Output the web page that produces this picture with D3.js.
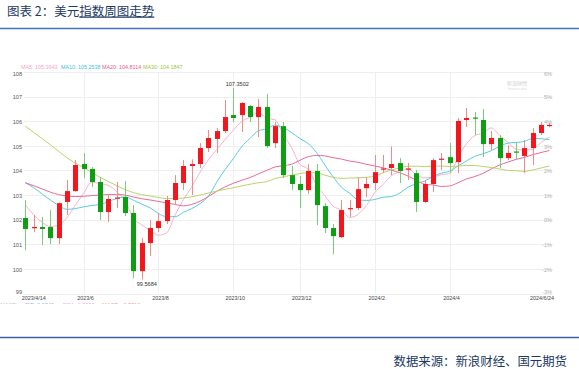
<!DOCTYPE html>
<html><head><meta charset="utf-8">
<script src="https://cdn.jsdelivr.net/npm/d3@7/dist/d3.min.js"></script>
<style>
html,body{margin:0;padding:0;background:#fff;}
svg{display:block;}
</style>
</head><body>
<div id="chart"></div>
<script>
// ---- data (weekly candles 2023/4/14 .. 2024/6/24) ----
const open  = [102.07,101.66,101.70,101.70,101.25,102.72,103.16,104.26,104.06,103.53,102.31,102.86,102.92,102.27,99.91,101.05,101.66,101.94,102.80,103.49,104.18,104.26,104.91,105.28,105.60,106.25,106.25,106.62,106.17,106.58,105.11,105.80,103.81,103.45,103.20,103.98,102.55,101.66,101.29,102.45,102.47,103.28,103.49,104.04,104.10,104.30,104.04,103.89,102.72,103.45,104.44,104.54,104.34,106.05,106.15,106.05,105.07,105.32,104.50,104.77,104.59,104.91,105.52,105.80];
const high  = [102.80,102.19,102.11,102.39,102.70,103.61,104.42,104.71,104.14,103.73,103.00,103.53,103.57,102.59,101.25,101.98,102.27,102.96,103.81,104.42,104.45,105.11,105.64,105.72,106.86,107.3502,106.78,106.66,106.90,107.11,105.97,105.97,104.18,103.77,104.26,104.26,102.67,101.82,102.80,102.80,103.73,103.73,104.63,104.63,104.97,104.50,104.30,104.02,103.61,104.50,104.71,105.11,106.13,106.54,106.37,106.50,105.60,105.44,105.03,105.15,105.24,105.72,105.97,105.93];
const low   = [100.76,101.50,100.97,101.01,101.01,102.19,103.14,103.69,103.33,101.98,101.90,102.47,102.15,99.62,99.5684,100.52,101.50,101.82,102.59,103.20,103.00,104.10,104.75,104.71,105.52,105.97,105.56,105.97,105.36,104.91,104.91,103.69,103.20,102.47,103.04,101.78,101.46,100.60,101.25,102.11,102.39,102.92,103.20,103.89,103.81,103.49,103.61,102.31,102.67,103.12,104.02,103.89,103.89,105.76,105.44,104.54,104.83,104.10,104.42,104.42,103.89,104.22,105.44,105.76];
const close = [101.62,101.70,101.62,101.25,102.67,103.16,104.22,104.06,103.53,102.31,102.84,102.90,102.27,99.91,101.05,101.66,101.94,102.80,103.49,104.18,104.26,104.91,105.32,105.60,106.17,106.13,106.74,106.17,106.58,104.99,105.80,103.81,103.45,103.20,103.98,102.59,101.66,101.33,102.39,102.47,103.24,103.45,103.93,104.08,104.26,103.98,104.08,102.72,103.45,104.42,104.48,104.30,106.01,106.13,106.11,105.07,105.32,104.50,104.71,104.73,104.91,105.52,105.85,105.85];

const ma5  = [102.60,102.20,101.90,101.72,101.77,102.08,102.58,103.07,103.53,103.46,103.39,103.13,102.77,102.05,101.79,101.56,101.37,101.47,102.19,102.81,103.33,103.93,104.43,104.85,105.25,105.63,105.99,106.16,106.36,106.12,106.06,105.47,104.93,104.25,104.05,103.41,102.98,102.55,102.39,102.09,102.22,102.58,103.10,103.43,103.79,103.94,104.07,103.82,103.70,103.73,103.83,103.87,104.53,105.07,105.41,105.52,105.73,105.43,105.14,104.87,104.83,104.87,105.14,105.36];
const ma10 = [103.50,103.30,103.05,102.80,102.58,102.42,102.45,102.52,102.58,102.61,102.74,102.86,102.92,102.79,102.63,102.48,102.25,102.12,102.12,102.30,102.45,102.65,102.95,103.52,104.03,104.48,104.96,105.30,105.61,105.69,105.84,105.73,105.54,105.30,105.09,104.73,104.22,103.74,103.32,103.07,102.81,102.78,102.82,102.91,102.94,103.08,103.32,103.46,103.57,103.76,103.89,103.97,104.18,104.38,104.57,104.68,104.80,104.98,105.11,105.14,105.18,105.30,105.29,105.25];
const ma20 = [103.50,103.38,103.25,103.12,103.02,102.96,102.94,102.95,102.98,103.00,103.02,103.02,103.00,102.92,102.85,102.80,102.74,102.68,102.62,102.56,102.62,102.75,102.94,103.15,103.33,103.48,103.60,103.71,103.86,104.00,104.14,104.19,104.25,104.41,104.56,104.61,104.59,104.52,104.46,104.38,104.33,104.25,104.18,104.11,104.01,103.91,103.77,103.60,103.44,103.41,103.35,103.37,103.50,103.65,103.75,103.88,104.06,104.22,104.34,104.45,104.53,104.64,104.73,104.81];
const ma30 = [105.80,105.55,105.30,105.05,104.78,104.52,104.30,104.12,103.92,103.72,103.55,103.38,103.22,103.10,103.02,102.96,102.90,102.86,102.86,102.88,102.93,103.00,103.08,103.16,103.23,103.30,103.37,103.44,103.50,103.54,103.67,103.74,103.81,103.87,103.91,103.90,103.81,103.72,103.68,103.69,103.70,103.72,103.77,103.91,104.02,104.10,104.17,104.17,104.16,104.17,104.18,104.16,104.18,104.20,104.20,104.16,104.12,104.06,104.00,103.99,103.96,104.02,104.10,104.18];

const legendNames  = ["MA5: 105.3643","MA10: 105.2538","MA20: 104.8114","MA30: 104.1847"];
const xTickIndex   = [0,7,16,25,33,42,51,63];
const xTickLabels  = ["2023/4/14","2023/6","2023/8","2023/10","2023/12","2024/2","2024/4","2024/6/24"];
const yTicks       = [99,100,101,102,103,104,105,106,107,108];
const rightLabels  = ["-3%","-2%","-1%","0%","1%","2%","3%","4%","5%","6%"];
const macdLabels   = ["MACD","DIF: 0.2840","DEA: 0.3998","MACD: -0.2316"];

// ---- drawing ----
const W = 579, H = 369;
const svg = d3.select("#chart").append("svg").attr("width", W).attr("height", H)
  .style("font-family", "'Liberation Sans', Arial, sans-serif");
svg.append("rect").attr("width", W).attr("height", H).attr("fill", "#fff");

const cjk = "'Noto Sans CJK SC','Noto Sans',sans-serif";
const navy = "#203864";

// header
const title = svg.append("text").attr("x", 7).attr("y", 15.5)
  .attr("font-family", cjk).attr("font-size", 12.5).attr("fill", navy);
title.append("tspan").text("图表 2：美元");
title.append("tspan").text("指数周图走势").attr("text-decoration", "underline");
svg.append("line").attr("x1", 0).attr("x2", W).attr("y1", 28.5).attr("y2", 28.5)
  .attr("stroke", "#4472c4").attr("stroke-width", 1.5);

// footer
svg.append("line").attr("x1", 0).attr("x2", W).attr("y1", 337.5).attr("y2", 337.5)
  .attr("stroke", "#3a62a7").attr("stroke-width", 1.5);
svg.append("text").attr("x", 567).attr("y", 366).attr("text-anchor", "end")
  .attr("font-family", cjk).attr("font-size", 12.4).attr("fill", navy)
  .text("数据来源：新浪财经、国元期货");

// scales
const n = close.length;
const x = d3.scaleLinear().domain([0, n - 1]).range([25.3, 25.3 + (n - 1) * 8.32]);
const y = d3.scaleLinear().domain([99, 108]).range([293.5, 72]);
const gridX0 = 24, gridX1 = 553;

// grid
const g = svg.append("g");
g.selectAll(".hg").data(yTicks).join("line")
  .attr("x1", gridX0).attr("x2", gridX1)
  .attr("y1", d => Math.round(y(d)) + 0.5).attr("y2", d => Math.round(y(d)) + 0.5)
  .attr("stroke", "#efefef").attr("stroke-width", 1);
g.selectAll(".vg").data(xTickIndex.slice(1, -1)).join("line")
  .attr("x1", d => Math.round(x(d)) + 0.5).attr("x2", d => Math.round(x(d)) + 0.5)
  .attr("y1", y(108)).attr("y2", y(99))
  .attr("stroke", "#efefef").attr("stroke-width", 1);

// vertical nudge of edge labels (top one sits below its line, bottom one above)
const labelShift = d => d === 108 ? 1.6 : (d === 99 ? -2.2 : 0.5);

// left axis labels
const yAxisL = d3.axisLeft(y).tickValues(yTicks).tickSize(0).tickPadding(0).tickFormat(d3.format("d"));
const ga = svg.append("g").attr("transform", "translate(22,0)").call(yAxisL);
ga.select(".domain").remove();
ga.selectAll("text").attr("font-size", 5.6).attr("fill", "#555")
  .attr("font-family", "'Liberation Sans', Arial, sans-serif")
  .attr("y", d => labelShift(d));

// right axis labels
const yAxisR = d3.axisRight(y).tickValues(yTicks).tickSize(0).tickPadding(0)
  .tickFormat((d, i) => rightLabels[i]);
const gr = svg.append("g").attr("transform", "translate(552,0)").call(yAxisR);
gr.select(".domain").remove();
gr.selectAll("text").attr("text-anchor", "end").attr("font-size", 5.6).attr("fill", "#b0b0b0")
  .attr("font-family", "'Liberation Sans', Arial, sans-serif")
  .attr("y", d => labelShift(d));

// x axis labels
const xAxis = d3.axisBottom(x).tickValues(xTickIndex).tickSize(0).tickPadding(0)
  .tickFormat((d, i) => xTickLabels[i]);
const gx = svg.append("g").attr("transform", "translate(0,298)").call(xAxis);
gx.select(".domain").remove();
gx.selectAll("text").attr("font-size", 5.4).attr("fill", "#444").attr("dy", "0.35em").attr("y", 0)
  .attr("font-family", "'Liberation Sans', Arial, sans-serif")
  .attr("text-anchor", (d, i) => i === 0 ? "start" : (i === xTickIndex.length - 1 ? "end" : "middle"))
  .attr("dx", (d, i) => i === 0 ? -4 : (i === xTickIndex.length - 1 ? 4 : 1.5));

// MACD row (mostly hidden below the chart area)
svg.append("clipPath").attr("id", "macdclip").append("rect")
  .attr("x", 0).attr("y", 301.5).attr("width", 300).attr("height", 2.3);
const macdX = [0, 25, 63, 102];
const macdCol = ["#aaa", "#6c8cf0", "#e879e8", "#ee6a6a"];
svg.append("g").attr("clip-path", "url(#macdclip)").selectAll("text").data(macdLabels).join("text")
  .attr("x", (d, i) => macdX[i]).attr("y", 307).attr("font-size", 5.6)
  .attr("fill", (d, i) => macdCol[i]).text(d => d);

// watermark
svg.append("text").attr("x", 527).attr("y", 85).attr("text-anchor", "end")
  .attr("font-size", 5).attr("fill", "#d0d0d0").attr("font-family", cjk).text("新浪财经");
svg.append("text").attr("x", 527).attr("y", 90).attr("text-anchor", "end")
  .attr("font-size", 3.5).attr("fill", "#dcdcdc").text("finance.sina");

// MA lines
const maSeries = [ma5, ma10, ma20, ma30];
const maColors = ["#f7b4c9", "#58cbe3", "#ec6a96", "#b8d56a"];
const line = d3.line().x((d, i) => x(i)).y(d => y(d)).curve(d3.curveMonotoneX);
svg.append("g").selectAll("path").data(maSeries).join("path")
  .attr("d", d => line(d)).attr("fill", "none")
  .attr("stroke", (d, i) => maColors[i]).attr("stroke-width", 1);

// candles
const RED = "#f3161c", GREEN = "#0e9e12", REDW = "#f28a8a", GREENW = "#78cd78";
const idx = d3.range(n);
const cg = svg.append("g");
cg.selectAll(".wick").data(idx).join("line")
  .attr("x1", i => Math.round(x(i)) + 0.5).attr("x2", i => Math.round(x(i)) + 0.5)
  .attr("y1", i => y(high[i])).attr("y2", i => y(low[i]))
  .attr("stroke", i => close[i] >= open[i] ? REDW : GREENW).attr("stroke-width", 1);
cg.selectAll(".body").data(idx).join("rect")
  .attr("x", i => Math.round(x(i)) - 2)
  .attr("width", 5)
  .attr("y", i => y(Math.max(open[i], close[i])))
  .attr("height", i => Math.max(1.2, Math.abs(y(open[i]) - y(close[i]))))
  .attr("fill", i => close[i] >= open[i] ? RED : GREEN);

// high / low annotations
const hiIdx = d3.maxIndex(high), loIdx = d3.minIndex(low);
svg.append("text").attr("x", x(hiIdx) + 4).attr("y", y(high[hiIdx]) - 2)
  .attr("text-anchor", "middle").attr("font-size", 5.6).attr("fill", "#333").text(high[hiIdx].toFixed(4));
svg.append("text").attr("x", x(loIdx) + 5).attr("y", y(low[loIdx]) + 6)
  .attr("text-anchor", "middle").attr("font-size", 5.6).attr("fill", "#333").text(low[loIdx].toFixed(4));

// legend
const legX = [21, 61, 102, 143];
const legCol = ["#f5a6c0", "#3fc2dd", "#ea5a8c", "#9cc545"];
svg.append("g").selectAll("text").data(legendNames).join("text")
  .attr("x", (d, i) => legX[i]).attr("y", 69.3).attr("font-size", 5.4)
  .attr("fill", (d, i) => legCol[i]).text(d => d);
</script>
</body></html>
